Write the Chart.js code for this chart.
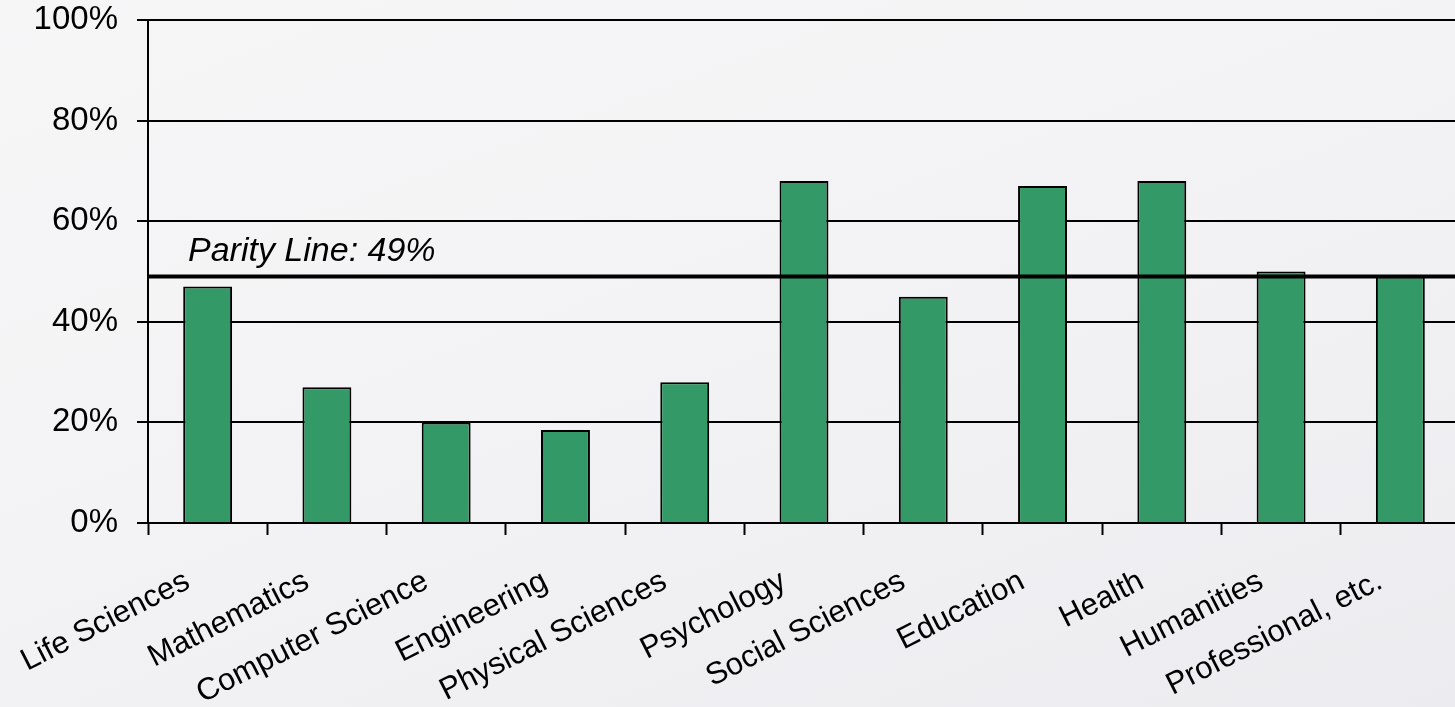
<!DOCTYPE html>
<html>
<head>
<meta charset="utf-8">
<script src="https://cdn.jsdelivr.net/npm/chart.js@4"></script>
<style>
  html, body { margin: 0; padding: 0; overflow: hidden; }
  body {
    width: 1455px; height: 707px;
    background: linear-gradient(160deg, #f6f6f7 0%, #f3f3f5 45%, #ececf0 100%);
  }
  #wrap { position: absolute; left: 0; top: 0; width: 1480px; height: 707px; }
</style>
</head>
<body>
<div id="wrap"><canvas id="c" width="1480" height="707"></canvas></div>
<script>
// Share of degrees earned by women, by field
const categories = [
  "Life Sciences", "Mathematics", "Computer Science", "Engineering",
  "Physical Sciences", "Psychology", "Social Sciences", "Education",
  "Health", "Humanities", "Professional, etc."
];
const shareValues = [47, 27, 20, 18.5, 28, 68, 45, 67, 68, 50, 49];
const parityValue = 49;
const parityLabel = "Parity Line: 49%";
const yTickValues = [0, 20, 40, 60, 80, 100];

const FONT = "'Liberation Sans', Arial, sans-serif";

// Horizontal reference line drawn over the bars, with its caption
const parityPlugin = {
  id: 'parityLine',
  afterDatasetsDraw(chart) {
    const { ctx, chartArea, scales } = chart;
    const y = scales.y.getPixelForValue(parityValue);
    ctx.save();
    ctx.beginPath();
    ctx.strokeStyle = '#000';
    ctx.lineWidth = 4;
    ctx.moveTo(chartArea.left, y);
    ctx.lineTo(chartArea.right, y);
    ctx.stroke();
    ctx.fillStyle = '#000';
    ctx.font = "italic 34px " + FONT;
    ctx.textAlign = 'left';
    ctx.textBaseline = 'alphabetic';
    ctx.fillText(parityLabel, chartArea.left + 40, y - 16);
    ctx.restore();
  }
};

new Chart(document.getElementById('c'), {
  type: 'bar',
  data: {
    labels: categories,
    datasets: [{
      data: shareValues,
      backgroundColor: '#339966',
      borderColor: '#000',
      borderWidth: 2,
      borderSkipped: 'bottom',
      categoryPercentage: 1,
      barPercentage: 0.41
    }]
  },
  options: {
    responsive: false,
    devicePixelRatio: 1,
    animation: false,
    layout: { padding: { top: 20, right: 20, left: 0, bottom: 0 } },
    plugins: { legend: { display: false }, tooltip: { enabled: false } },
    scales: {
      x: {
        offset: true,
        grid: {
          offset: true,
          drawOnChartArea: false,
          drawTicks: true,
          tickLength: 12,
          tickWidth: 2,
          tickColor: '#000'
        },
        border: { display: true, color: '#000', width: 2 },
        ticks: {
          autoSkip: false,
          minRotation: 27,
          maxRotation: 27,
          padding: 28,
          labelOffset: -20,
          color: '#000',
          font: { family: FONT, size: 31 }
        },
        afterFit(scale) {
          scale.height = 184;
          scale.paddingLeft = 0;
          scale.paddingRight = 0;
        }
      },
      y: {
        min: 0,
        max: 100,
        afterBuildTicks(scale) { scale.ticks = yTickValues.map(v => ({ value: v })); },
        grid: {
          color: '#000',
          lineWidth: 2,
          drawTicks: true,
          tickLength: 11,
          tickColor: '#000'
        },
        border: { display: true, color: '#000', width: 2 },
        ticks: {
          padding: 19,
          color: '#000',
          font: { family: FONT, size: 33 },
          callback: v => v + '%'
        },
        afterFit(scale) {
          scale.width = 148;
          scale.paddingTop = 0;
          scale.paddingBottom = 0;
        }
      }
    }
  },
  plugins: [parityPlugin]
});
</script>
</body>
</html>
